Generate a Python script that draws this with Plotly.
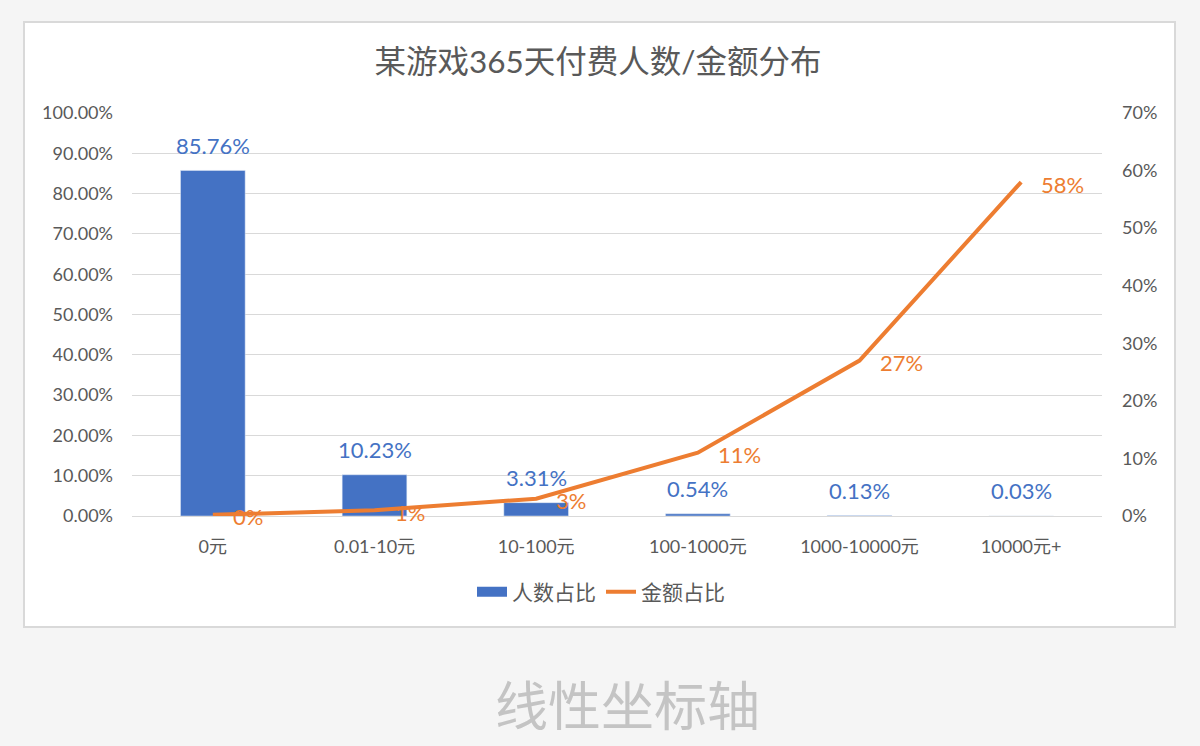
import plotly.graph_objects as go

categories = ["0元", "0.01-10元", "10-100元", "100-1000元", "1000-10000元", "10000元+"]
people_share = [0.8576, 0.1023, 0.0331, 0.0054, 0.0013, 0.0003]
amount_share = [0.002, 0.010, 0.030, 0.110, 0.270, 0.580]

blue = "#4472C4"
orange = "#ED7D31"
grey = "#595959"
bg = "#f5f5f5"
font_family = "Lato, Noto Sans CJK SC, sans-serif"

# plot area in screen pixels: x 132..1102, y 113..516
W, H = 1200, 746
L, R, T, B = 132, W - 1102, 113, H - 516
pw, ph = W - L - R, H - T - B


def px_x(x):
    return (x - L) / pw


def px_y(y):
    return (H - B - y) / ph


fig = go.Figure()

fig.add_trace(go.Bar(
    x=categories, y=people_share, name="人数占比",
    marker_color=blue, showlegend=False,
))

# legend entry drawn as a thick bar-like stroke, the way excel shows it
fig.add_trace(go.Scatter(
    x=[categories[0]], y=[None], name="人数占比",
    mode="lines", line=dict(color=blue, width=10),
))

fig.add_trace(go.Scatter(
    x=categories, y=amount_share, name="金额占比", yaxis="y2",
    mode="lines", line=dict(color=orange, width=4),
))

# data labels, a bit away from the marks like excel does
for c, v in zip(categories, people_share):
    fig.add_annotation(x=c, y=v, yref="y", text=f"{v:.2%}", showarrow=False,
                       yanchor="middle", yshift=25,
                       font=dict(size=22, color=blue))
for c, v in zip(categories, amount_share):
    fig.add_annotation(x=c, y=v, yref="y2", text=f"{v:.0%}", showarrow=False,
                       xanchor="left", yanchor="middle", xshift=18, yshift=-2,
                       font=dict(size=22, color=orange))

# white chart box with grey border
fig.add_shape(type="rect", xref="paper", yref="paper",
              x0=px_x(24), x1=px_x(1175), y0=px_y(627), y1=px_y(22),
              fillcolor="white", line=dict(color="#d9d9d9", width=2),
              layer="below")

fig.add_annotation(text="线性坐标轴", xref="paper", yref="paper",
                   x=px_x(627), y=px_y(705), showarrow=False,
                   xanchor="center", yanchor="middle",
                   font=dict(size=53, color="#c4c4c4", family=font_family))

fig.update_layout(
    width=W, height=H,
    margin=dict(l=L, r=R, t=T, b=B),
    paper_bgcolor=bg, plot_bgcolor="rgba(0,0,0,0)",
    font=dict(family=font_family, color=grey),
    title=dict(text="某游戏365天付费人数/金额分布", x=598 / W, xanchor="center",
               y=1 - 62 / H, yanchor="middle", yref="container",
               font=dict(size=31.5, color=grey)),
    bargap=0.6,
    showlegend=True,
    legend=dict(orientation="h", x=px_x(601), xanchor="center",
                y=px_y(592), yanchor="middle",
                font=dict(size=21, color=grey), bgcolor="rgba(0,0,0,0)"),
    xaxis=dict(showgrid=False, showline=True, linecolor="#d9d9d9", linewidth=1,
               ticks="", tickfont=dict(size=18, color=grey),
               ticklabelstandoff=14),
    yaxis=dict(range=[0, 1], dtick=0.1, tickformat=".2%",
               showgrid=True, gridcolor="#d9d9d9", gridwidth=1,
               zeroline=False, ticks="", tickfont=dict(size=18, color=grey),
               ticklabelstandoff=18),
    yaxis2=dict(range=[0, 0.7], dtick=0.1, tickformat=".0%",
                overlaying="y", side="right", showgrid=False, zeroline=False,
                ticks="", tickfont=dict(size=18, color=grey),
                ticklabelstandoff=19),
)

# drop the page's default body margin so the figure fills the window
fig.write_html("out.html", config={"displayModeBar": False}, post_script=(
    "document.body.style.margin='0';"
    "document.body.style.background='" + bg + "';"
))
